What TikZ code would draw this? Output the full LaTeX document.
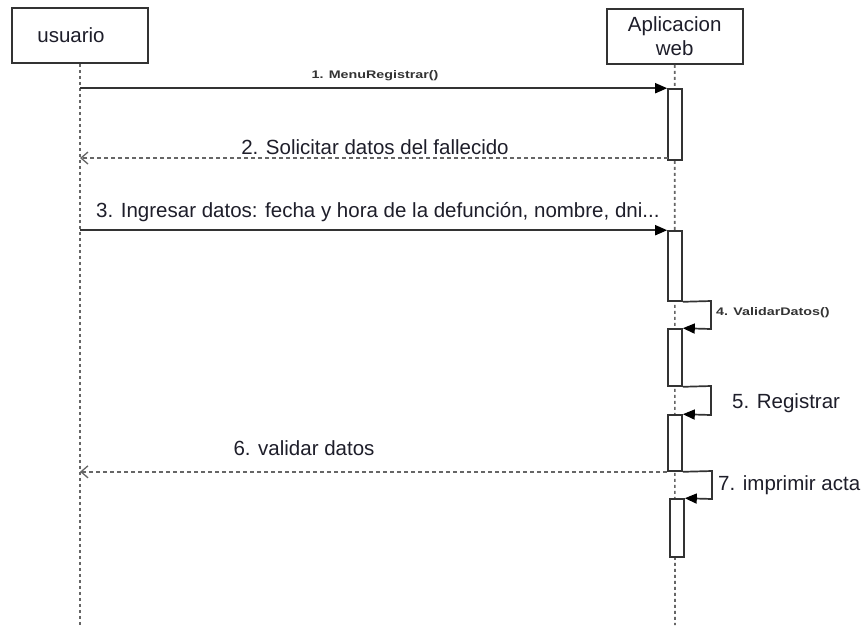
\documentclass[tikz,border=0pt]{standalone}
\usepackage{fontspec}
\setmainfont{Liberation Sans}
\usetikzlibrary{arrows.meta}
\definecolor{ln}{HTML}{333333}
\definecolor{ll}{HTML}{666666}
\definecolor{tx}{HTML}{1E1E2A}
\tikzset{
  actor/.style={draw=ln, line width=1.7pt, fill=white, minimum width=136pt, minimum height=55pt, inner sep=0pt, text=tx, font=\fontsize{20.5}{24}\selectfont, align=center},
  lifeline/.style={draw=ll, line width=1.6pt, dash pattern=on 3pt off 3pt},
  actbox/.style={draw=ln, line width=1.6pt, fill=white, minimum width=14pt, inner sep=0pt},
  syncmsg/.style={draw=ln, line width=1.7pt, -{Triangle[length=12pt,width=10pt,color=black]}},
  retmsg/.style={draw=ll, line width=1.5pt, dash pattern=on 4pt off 3pt, -{Straight Barb[length=7pt,width=12pt,line width=1.3pt]}},
  biglbl/.style={text=tx, font=\fontsize{20.5}{24}\selectfont, inner sep=0pt},
  smalllbl/.style={text=ln, font=\fontsize{11}{13}\selectfont\bfseries, inner sep=0pt}
}
\begin{document}
\begin{tikzpicture}[x=1pt,y=-1pt]
\useasboundingbox (0,0) rectangle (865,625);
\fill[white] (0,0) rectangle (865,625);

% actors
\node[actor] (u) at (80,35.5) {\hspace*{-18pt}usuario};
\node[actor] (w) at (674.7,36.5) {Aplicacion\\web};

% lifelines
\coordinate (uend) at (80,625);
\coordinate (wend) at (675,625);
\draw[lifeline] (u.south) -- (uend);
\draw[lifeline] (w.south) -- (wend);

% activation boxes
\node[actbox, minimum height=71pt] (a1) at (675,124.5) {};
\node[actbox, minimum height=70pt] (a2) at (675,266) {};
\node[actbox, minimum height=57pt] (a3) at (675,357.5) {};
\node[actbox, minimum height=56pt] (a4) at (675,443) {};
\node[actbox, minimum height=58pt] (a5) at (677,528) {};

% corner coordinates for self messages
\coordinate (c4a) at (711,301);
\coordinate (c4b) at (711,329);
\coordinate (c5a) at (711,386);
\coordinate (c5b) at (711,415);
\coordinate (c7a) at (712,471);
\coordinate (c7b) at (712,499);
\coordinate (m2) at (668,158);

% messages
\draw[syncmsg] (u.south |- a1.north west) -- (a1.north west);
\node[smalllbl] (l1) at (375,76) {\scalebox{1.3}[1]{1. MenuRegistrar()}};

\draw[retmsg] (m2) -- (u.south |- m2);
\node[biglbl] (l2) at (375,147) {2. Solicitar datos del fallecido};

\draw[syncmsg] (u.south |- a2.north west) -- (a2.north west);
\node[biglbl, anchor=west] (l3) at (96,212) {3. Ingresar datos: fecha y hora de la defunción, nombre, dni...};

\draw[syncmsg] (a2.south east) -- (c4a) -- (c4b) -- (a3.north east);
\node[smalllbl, anchor=west] (l4) at (716,313) {\scalebox{1.3}[1]{4. ValidarDatos()}};

\draw[syncmsg] (a3.south east) -- (c5a) -- (c5b) -- (a4.north east);
\node[biglbl, anchor=west] (l5) at (732,403) {5. Registrar};

\draw[retmsg] (a4.south west) -- (u.south |- a4.south west);
\node[biglbl] (l6) at (304,448) {6. validar datos};

\draw[syncmsg] (a4.south east) -- (c7a) -- (c7b) -- (a5.north east);
\node[biglbl, anchor=west] (l7) at (718,485) {7. imprimir acta};
\end{tikzpicture}
\end{document}
